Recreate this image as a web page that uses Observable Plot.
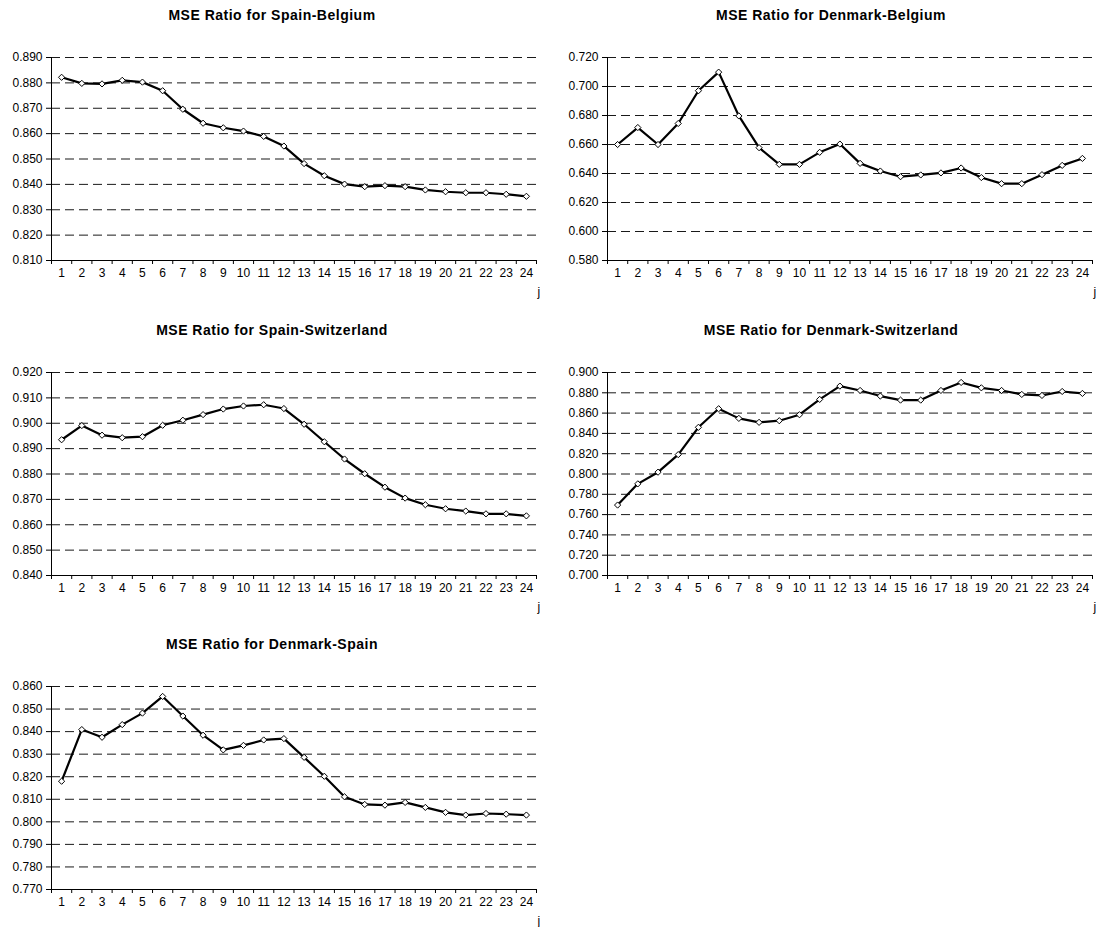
<!DOCTYPE html>
<html>
<head>
<meta charset="utf-8">
<script src="https://cdn.jsdelivr.net/npm/d3@7"></script>
<script src="https://cdn.jsdelivr.net/npm/@observablehq/plot@0.6"></script>
<style>
  html, body { margin: 0; padding: 0; background: #fff; }
  #wrap { position: relative; width: 1100px; height: 927px; overflow: hidden; font-family: "Liberation Sans", Arial, sans-serif; }
  .title { position: absolute; width: 400px; text-align: center; font-weight: bold; font-size: 14px; letter-spacing: 0.5px; color: #000; line-height: 16px; }
  .panel { position: absolute; }
</style>
</head>
<body>
<div id="wrap"></div>
<script>
// ---- data ----
const horizons = [1,2,3,4,5,6,7,8,9,10,11,12,13,14,15,16,17,18,19,20,21,22,23,24];

const titles = [
  "MSE Ratio for Spain-Belgium",
  "MSE Ratio for Denmark-Belgium",
  "MSE Ratio for Spain-Switzerland",
  "MSE Ratio for Denmark-Switzerland",
  "MSE Ratio for Denmark-Spain"
];

const spainBelgium = [0.8822,0.8798,0.8796,0.8810,0.8803,0.8769,0.8696,0.8641,0.8623,0.8610,0.8589,0.8551,
                      0.8482,0.8434,0.8401,0.8391,0.8395,0.8391,0.8378,0.8371,0.8367,0.8367,0.8361,0.8353];
const denmarkBelgium = [0.6600,0.6717,0.6600,0.6745,0.6971,0.7099,0.6797,0.6578,0.6463,0.6463,0.6546,0.6603,
                        0.6470,0.6417,0.6378,0.6390,0.6404,0.6438,0.6372,0.6330,0.6330,0.6392,0.6456,0.6504];
const spainSwitzerland = [0.8935,0.8991,0.8953,0.8943,0.8947,0.8992,0.9012,0.9034,0.9056,0.9068,0.9073,0.9058,
                          0.8996,0.8927,0.8859,0.8801,0.8748,0.8705,0.8679,0.8663,0.8654,0.8643,0.8643,0.8635];
const denmarkSwitzerland = [0.7694,0.7903,0.8018,0.8191,0.8460,0.8643,0.8548,0.8509,0.8525,0.8584,0.8735,0.8866,
                            0.8823,0.8768,0.8728,0.8728,0.8823,0.8902,0.8849,0.8823,0.8784,0.8774,0.8813,0.8794];
const denmarkSpain = [0.8180,0.8409,0.8375,0.8431,0.8482,0.8556,0.8469,0.8384,0.8319,0.8339,0.8363,0.8369,
                      0.8286,0.8202,0.8111,0.8077,0.8074,0.8086,0.8064,0.8042,0.8030,0.8037,0.8034,0.8030];

// y-axis tick labels per panel
const ticksSpainBelgium = [0.810,0.820,0.830,0.840,0.850,0.860,0.870,0.880,0.890];
const ticksDenmarkBelgium = [0.580,0.600,0.620,0.640,0.660,0.680,0.700,0.720];
const ticksSpainSwitzerland = [0.840,0.850,0.860,0.870,0.880,0.890,0.900,0.910,0.920];
const ticksDenmarkSwitzerland = [0.700,0.720,0.740,0.760,0.780,0.800,0.820,0.840,0.860,0.880,0.900];
const ticksDenmarkSpain = [0.770,0.780,0.790,0.800,0.810,0.820,0.830,0.840,0.850,0.860];

const xLabel = "j";

// ---- layout ----
const panels = [
  {title: titles[0], values: spainBelgium, ticks: ticksSpainBelgium, left: 0, plotTop: 57, col: 0},
  {title: titles[1], values: denmarkBelgium, ticks: ticksDenmarkBelgium, left: 550, plotTop: 57, col: 1},
  {title: titles[2], values: spainSwitzerland, ticks: ticksSpainSwitzerland, left: 0, plotTop: 372, col: 0},
  {title: titles[3], values: denmarkSwitzerland, ticks: ticksDenmarkSwitzerland, left: 550, plotTop: 372, col: 1},
  {title: titles[4], values: denmarkSpain, ticks: ticksDenmarkSpain, left: 0, plotTop: 686, col: 0}
];

const wrap = document.getElementById("wrap");
const fmt = d3.format(".3f");
const boundaries = d3.range(0.5, 25, 1);
const mTop = 27, plotH = 203, mBottom = 45;

for (const p of panels) {
  const mLeft = p.col === 0 ? 51 : 57;
  const mRight = p.col === 0 ? 14 : 8;
  const data = horizons.map((h, i) => ({j: h, v: p.values[i]}));
  const yMin = p.ticks[0], yMax = p.ticks[p.ticks.length - 1];

  const chart = Plot.plot({
    width: 550,
    height: mTop + plotH + mBottom,
    marginTop: mTop,
    marginBottom: mBottom,
    marginLeft: mLeft,
    marginRight: mRight,
    style: {fontFamily: '"Liberation Sans", Arial, sans-serif', fontSize: "12px", color: "#000", background: "#fff", overflow: "visible"},
    x: {domain: [0.5, 24.5], label: null},
    y: {domain: [yMin, yMax], label: null},
    marks: [
      Plot.gridY(p.ticks.slice(1), {stroke: "#000", strokeOpacity: 0.9, strokeWidth: 1, strokeDasharray: "9,5"}),
      Plot.ruleX([0.5], {stroke: "#000", strokeWidth: 1}),
      Plot.ruleY([yMin], {stroke: "#000", strokeWidth: 1}),
      Plot.axisY({ticks: p.ticks, tickSize: 5, tickPadding: 4, tickFormat: fmt, label: null, fontSize: 12, fill: "#000"}),
      Plot.axisX({ticks: boundaries, tickSize: 4, tickFormat: () => "", label: null}),
      Plot.axisX({ticks: horizons, tickSize: 0, tickPadding: 8, tickFormat: d3.format("d"), label: null, fontSize: 12, fill: "#000"}),
      Plot.line(data, {x: "j", y: "v", stroke: "#000", strokeWidth: 2.2}),
      Plot.dot(data, {x: "j", y: "v", symbol: "diamond2", r: 2.8, fill: "#fff", stroke: "#000", strokeWidth: 1}),
      Plot.text([xLabel], {text: d => d, frameAnchor: "bottom-right", textAnchor: "start", lineAnchor: "middle", dx: 1, dy: 32, fontSize: 12, fill: "#000"})
    ]
  });
  const div = document.createElement("div");
  div.className = "panel";
  div.style.left = p.left + "px";
  div.style.top = (p.plotTop - mTop) + "px";
  div.appendChild(chart);
  wrap.appendChild(div);

  const t = document.createElement("div");
  t.className = "title";
  t.textContent = p.title;
  const center = p.col === 0 ? 272 : 831;
  t.style.left = (center - 200) + "px";
  t.style.top = (p.plotTop - 42 - 8) + "px";
  wrap.appendChild(t);
}
</script>
</body>
</html>
